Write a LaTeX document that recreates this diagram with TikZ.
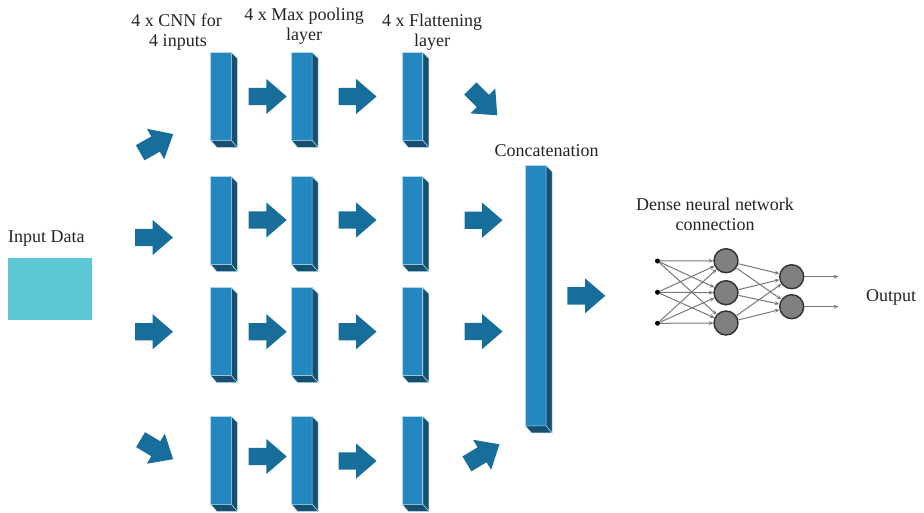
\documentclass[tikz,border=0pt]{standalone}
\usepackage{fontspec}
\setmainfont{Liberation Serif}
\usetikzlibrary{arrows.meta}
\definecolor{frontc}{RGB}{35,135,192}
\definecolor{sidec}{RGB}{21,80,112}
\definecolor{arrowc}{RGB}{24,110,155}
\definecolor{edgec}{RGB}{175,215,235}
\definecolor{inputc}{RGB}{93,200,212}
\definecolor{txtc}{RGB}{35,35,35}
\definecolor{netedge}{RGB}{120,120,120}
\definecolor{neuronc}{RGB}{128,128,128}
\definecolor{neurond}{RGB}{50,50,50}
\begin{document}
\begin{tikzpicture}[x=1pt,y=-1pt,
  lbl/.style={font=\fontsize{18}{20.5}\selectfont, text=txtc, inner sep=0, align=center},
  blockf/.style={rectangle, fill=frontc, draw=edgec, line width=0.7pt, inner sep=0, outer sep=0, minimum width=20.5pt, minimum height=88pt},
  sideface/.style={fill=sidec, draw=edgec, line width=0.5pt, line join=round},
  pics/barrow/.style={code={\fill[arrowc, rotate=#1] (-19,-8.7) -- (-1.3,-8.7) -- (-1.3,-17.5) -- (19,0) -- (-1.3,17.5) -- (-1.3,8.7) -- (-19,8.7) -- cycle;}},
  pics/barrow/.default=0,
  dot/.style={circle, fill=black, inner sep=0, minimum size=5pt},
  neuron/.style={circle, fill=neuronc, draw=neurond, line width=1.4pt, inner sep=0, minimum size=24pt},
  netarrow/.style={draw=netedge, line width=1pt, -{Stealth[length=4.5pt,width=4pt]}}
]
\useasboundingbox (0,0) rectangle (924,512);

% input data
\node[lbl, anchor=base west] (inlbl) at (8,242.7) {Input Data};
\node[rectangle, fill=inputc, inner sep=0, minimum width=84pt, minimum height=62.3pt] (inrect) at (49.7,288.8) {};

% headers
\node[lbl, anchor=base] (h1a) at (176.7,26) {4 x CNN for};
\node[lbl, anchor=base] (h1b) at (178,46.5) {4 inputs};
\node[lbl, anchor=base] (h2a) at (304,20.5) {4 x Max pooling};
\node[lbl, anchor=base] (h2b) at (304,40) {layer};
\node[lbl, anchor=base] (h3a) at (432,26.5) {4 x Flattening};
\node[lbl, anchor=base] (h3b) at (432,46.7) {layer};
\node[lbl, anchor=base] (concl) at (546.7,156.7) {Concatenation};
\node[lbl, anchor=base] (densea) at (715,210.7) {Dense neural network};
\node[lbl, anchor=base] (denseb) at (715,230.7) {connection};
\node[lbl, anchor=base west] (outl) at (866,301.7) {Output};

% blocks
\foreach \r/\y in {1/96.3, 2/220.5, 3/331.6, 4/460.3}{
  \node[blockf] (c\r) at (221,\y) {};
  \node[blockf] (m\r) at (301.8,\y) {};
  \node[blockf] (f\r) at (412.5,\y) {};
}
\node[blockf, minimum height=260.3pt] (cat) at (535.8,295.8) {};
\foreach \n in {c1,c2,c3,c4,m1,m2,m3,m4,f1,f2,f3,f4,cat}{
  \filldraw[sideface] (\n.north east) -- ++(6,6) -- ([shift={(6,7)}]\n.south east) -- (\n.south east) -- cycle;
  \filldraw[sideface] (\n.south west) -- (\n.south east) -- ([shift={(6,7)}]\n.south east) -- ([shift={(6,7)}]\n.south west) -- cycle;
}

% block arrows
\pic (ai1) at (156.7,143.4) {barrow=29.5};
\pic (ai2) at (154,237.5) {barrow};
\pic (ai3) at (154,331.7) {barrow};
\pic (ai4) at (156.9,449.4) {barrow=-31};
\pic (ac1) at (267.7,96.5) {barrow};
\pic (ac2) at (267.7,220) {barrow};
\pic (ac3) at (267.7,331.7) {barrow};
\pic (ac4) at (267.7,456.5) {barrow};
\pic (am1) at (357.5,96.5) {barrow};
\pic (am2) at (357.5,220) {barrow};
\pic (am3) at (357.5,331.7) {barrow};
\pic (am4) at (357.5,461) {barrow};
\pic (af1) at (483.8,101.9) {barrow=-45};
\pic (af2) at (483.5,220.2) {barrow};
\pic (af3) at (483.5,331.5) {barrow};
\pic (af4) at (483.2,454.1) {barrow=31};
\pic (acat) at (586.3,295.8) {barrow};

% dense network
\node[dot] (i1) at (657.5,261) {};
\node[dot] (i2) at (657.5,292.3) {};
\node[dot] (i3) at (657.5,323.3) {};
\node[neuron] (n1) at (726,260.7) {};
\node[neuron] (n2) at (726,292.7) {};
\node[neuron] (n3) at (726,323) {};
\node[neuron] (o1) at (791.7,276.7) {};
\node[neuron] (o2) at (791.7,306.7) {};
\coordinate (e1) at (838.3,276.7);
\coordinate (e2) at (838.3,306.7);
\foreach \a in {i1,i2,i3}{
  \foreach \b in {n1,n2,n3}{
    \draw[netarrow] (\a) -- (\b);
  }
}
\foreach \a in {n1,n2,n3}{
  \foreach \b in {o1,o2}{
    \draw[netarrow] (\a) -- (\b);
  }
}
\draw[netarrow] (o1) -- (e1);
\draw[netarrow] (o2) -- (e2);
\end{tikzpicture}
\end{document}
